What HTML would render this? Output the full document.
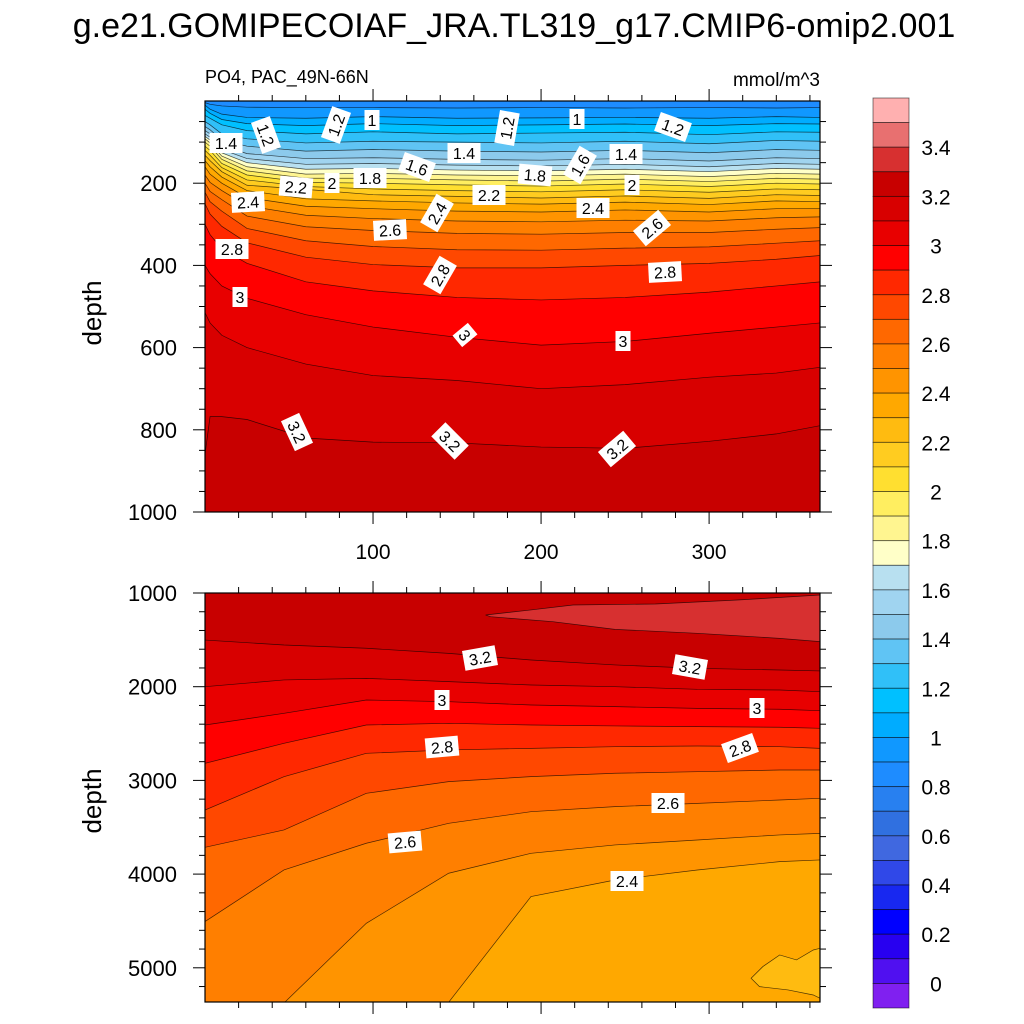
<!DOCTYPE html>
<html><head><meta charset="utf-8"><style>
html,body{margin:0;background:#fff;width:1024px;height:1024px;overflow:hidden;}
svg{display:block;font-family:"Liberation Sans",sans-serif;}
</style></head><body>
<svg id="c" width="1024" height="1024" viewBox="0 0 1024 1024">
<text x="514" y="37" font-size="34" text-anchor="middle">g.e21.GOMIPECOIAF_JRA.TL319_g17.CMIP6-omip2.001</text>
<text x="205" y="83" font-size="18">PO4, PAC_49N-66N</text>
<text x="820" y="86" font-size="19" text-anchor="end">mmol/m^3</text>
<text transform="translate(101,313) rotate(-90)" font-size="26" text-anchor="middle">depth</text>
<text transform="translate(101,801) rotate(-90)" font-size="26" text-anchor="middle">depth</text>
</svg>
<script>
// ---- data ----
const topDays = [0, 3, 10, 25, 60, 100, 150, 200, 250, 300, 340, 366];
const topLevels = [0.9,1.0,1.1,1.2,1.3,1.4,1.5,1.6,1.7,1.8,1.9,2.0,2.1,2.2,2.3,2.4,2.5,2.6,2.7,2.8,2.9,3.0,3.1,3.2];
const topDepths = [
 [4,8,12,15,16,16,17,16,17,16,17,16],
 [10,20,32,40,42,38,42,41,40,42,38,40],
 [20,30,45,55,60,55,60,58,56,60,55,56],
 [35,42,58,72,80,75,80,78,76,82,75,76],
 [50,58,80,92,102,98,100,102,98,104,96,98],
 [62,70,95,110,122,118,122,124,120,126,118,120],
 [72,80,108,128,140,138,142,144,140,146,138,140],
 [80,88,118,140,154,152,156,158,154,160,152,154],
 [86,95,126,150,166,164,168,170,166,172,164,166],
 [92,102,134,160,178,176,180,182,178,184,176,178],
 [100,110,142,170,188,188,192,195,190,196,188,190],
 [110,120,152,180,198,200,204,207,202,208,200,202],
 [120,132,162,192,208,214,218,221,216,222,214,216],
 [132,145,172,205,215,228,232,236,231,237,228,230],
 [145,160,185,218,238,243,248,251,246,252,243,245],
 [160,178,200,235,256,262,268,270,265,270,262,262],
 [180,198,218,255,278,286,292,294,290,292,284,282],
 [200,220,240,280,306,315,322,324,320,320,312,308],
 [222,245,268,310,340,354,362,363,358,355,346,340],
 [250,275,305,345,380,398,406,406,400,395,385,376],
 [300,325,360,395,440,462,478,484,478,465,450,440],
 [400,420,450,480,520,550,575,594,585,565,550,540],
 [515,540,570,600,640,668,680,700,690,672,662,648],
 [860,768,768,775,820,830,832,842,845,828,810,790]
];
const botDays = [0, 47, 96, 145, 194, 244, 293, 342, 366];
const botLevels = [3.2,3.1,3.0,2.9,2.8,2.7,2.6,2.5,2.4];
const botDepths = [
 [1502,1555,1590,1644,1715,1768,1804,1822,1832],
 [2000,1928,1911,1946,1982,2000,2028,2035,2053],
 [2409,2284,2142,2160,2195,2213,2231,2241,2256],
 [2818,2604,2409,2391,2409,2419,2426,2433,2444],
 [3316,2960,2711,2675,2658,2640,2633,2640,2658],
 [3714,3529,3138,3013,2960,2924,2907,2889,2889],
 [4507,3956,3671,3458,3334,3280,3245,3209,3191],
 [6659,5770,4525,3991,3778,3689,3636,3582,3565],
 [8794,7726,6481,5368,4240,4063,3956,3867,3849]
];
const highBlobDays = [167,194,219,268,317,366,366,342,293,244,207,170];
const highBlobDepths = [1235,1181,1128,1117,1075,1021,1519,1484,1430,1388,1306,1253];
const lowBlobDays = [366,362,352,342,332,325,330,347,362,366];
const lowBlobDepths = [4792,4810,4916,4863,4987,5112,5201,5236,5290,5325];
const cbLabels = ["0","0.2","0.4","0.6","0.8","1","1.2","1.4","1.6","1.8","2","2.2","2.4","2.6","2.8","3","3.2","3.4"];
const cbLabelVals = [0,0.2,0.4,0.6,0.8,1,1.2,1.4,1.6,1.8,2,2.2,2.4,2.6,2.8,3,3.2,3.4];
const topYTicks = [200,400,600,800,1000];
const botYTicks = [1000,2000,3000,4000,5000];
const xTicks = [100,200,300];
const bandColors = ["#5010f0","#2800f0","#0000ff","#1828f0","#3048e8","#4068e0","#3070e0","#2880f0","#1e8cff","#1098ff","#00acff","#00c0ff","#30c0f8","#60c4f4","#8ccaec","#a0d4f0","#b8e0f0","#ffffc8","#fff590","#ffee60","#ffdf30","#ffcc20","#ffbb10","#ffa800","#ff9400","#ff7f00","#ff6800","#ff4800","#ff2800","#ff0000","#e80000","#d80000","#c80000","#d73030","#e87070"];
const overColor = "#ffb0b0", underColor = "#8020f0";
const topLabels = [["1.4",226,143,0],["1.2",266,135,70],["1.2",336,125,-70],["1",372,120,0],["1.2",507,128,-80],["1",577,119,0],["1.2",673,127,20],["1.4",464,153,0],["1.6",417,167,20],["1.8",370,178,0],["2",332,183,0],["2.2",296,187,5],["1.8",535,175,5],["1.6",580,165,-60],["1.4",626,154,0],["2",632,185,0],["2.2",489,195,0],["2.4",248,202,-3],["2.4",437,213,-60],["2.4",593,208,0],["2.6",390,230,-3],["2.6",652,228,-40],["2.8",232,249,0],["2.8",440,275,-60],["2.8",665,272,-3],["3",240,297,0],["3",465,335,50],["3",623,341,0],["3.2",297,432,65],["3.2",450,441,45],["3.2",617,449,-40]];
const botLabels = [["3.2",480,658,-10],["3.2",690,667,10],["3",442,700,0],["3",757,708,0],["2.8",442,747,-5],["2.8",740,748,-20],["2.6",405,842,-5],["2.6",668,803,0],["2.4",627,881,0]];

// ---- geometry ----
const X0=205, X1=820, DMAX=366;
const T0=101, T1=512, B0=593, B1=1002;
const xs = d => X0 + d*(X1-X0)/DMAX;
const yTop = z => T0 + z*(T1-T0)/1000;
const yBot = z => Math.min(B1+1, B0 + (z-1000)*(B1-B0)/4365);
const NS="http://www.w3.org/2000/svg";
const svg=document.getElementById('c');
function mk(tag, attrs, parent){const e=document.createElementNS(NS,tag);for(const k in attrs)e.setAttribute(k,attrs[k]);(parent||svg).appendChild(e);return e;}
function band(v){const k=Math.round(v*10);return k<0?underColor:(k>34?overColor:bandColors[k]);}
const defs=mk('defs',{});
const cpT=mk('clipPath',{id:'cpT'},defs);mk('rect',{x:X0,y:T0,width:X1-X0,height:T1-T0},cpT);
const cpB=mk('clipPath',{id:'cpB'},defs);mk('rect',{x:X0,y:B0,width:X1-X0,height:B1-B0},cpB);

// ---- top panel ----
const gT=mk('g',{'clip-path':'url(#cpT)'});


const bgT=mk('rect',{x:X0,y:T0,width:X1-X0,height:T1-T0,fill:band(0.8)},gT);


topLevels.forEach((L,i)=>{
  const pts=topDays.map((d,j)=>xs(d)+','+yTop(topDepths[i][j]));
  const poly=mk('polygon',{points:pts.join(' ')+' '+(X1+2)+','+(T1+2)+' '+(X0-2)+','+(T1+2),fill:band(L)},gT);
  
  
});
topLevels.forEach((L,i)=>{
  const pts=topDays.map((d,j)=>xs(d)+','+yTop(topDepths[i][j]));
  const pl=mk('polyline',{points:pts.join(' '),fill:'none',stroke:'#000','stroke-width':0.7,'stroke-opacity':0.7},gT);
  
  
});

// ---- bottom panel ----
const gB=mk('g',{'clip-path':'url(#cpB)'});


const bgB=mk('rect',{x:X0,y:B0,width:X1-X0,height:B1-B0,fill:band(3.2)},gB);


botLevels.forEach((L,i)=>{
  const pts=botDays.map((d,j)=>xs(d)+','+yBot(botDepths[i][j]));
  const poly=mk('polygon',{points:pts.join(' ')+' '+(X1+2)+','+(B1+1)+' '+(X0-2)+','+(B1+1),fill:band(L-0.1)},gB);
  
  
});
const hb=mk('polygon',{points:highBlobDays.map((d,j)=>xs(d)+','+yBot(highBlobDepths[j])).join(' '),fill:band(3.3),stroke:'#000','stroke-width':0.7,'stroke-opacity':0.7},gB);


const lb=mk('polygon',{points:lowBlobDays.map((d,j)=>xs(d)+','+yBot(lowBlobDepths[j])).join(' '),fill:band(2.2),stroke:'#000','stroke-width':0.7,'stroke-opacity':0.7},gB);


botLevels.forEach((L,i)=>{
  const pts=botDays.map((d,j)=>xs(d)+','+yBot(botDepths[i][j]));
  const pl=mk('polyline',{points:pts.join(' '),fill:'none',stroke:'#000','stroke-width':0.7,'stroke-opacity':0.7},gB);
  
  
});

// ---- contour labels ----
function addLabels(arr){arr.forEach(a=>{
  const g=mk('g',{transform:`translate(${a[1]},${a[2]}) rotate(${a[3]})`});
  
  
  const w=a[0].length*9+6;
  mk('rect',{x:-w/2,y:-10,width:w,height:20,fill:'#fff'},g);
  const t=mk('text',{x:0,y:6,'font-size':16,'text-anchor':'middle'},g);t.textContent=a[0];
});}
addLabels(topLabels);addLabels(botLabels);

// ---- frames & ticks ----
function frame(y0,y1,name){
  const r=mk('rect',{x:X0,y:y0,width:X1-X0,height:y1-y0,fill:'none',stroke:'#000','stroke-width':1.2});
  
  
  for(let d=20;d<DMAX;d+=20){const big=d%100===0;const L=big?12:6;const x=xs(d);
    mk('line',{x1:x,y1:y0,x2:x,y2:y0-L,stroke:'#000','stroke-width':1});
    mk('line',{x1:x,y1:y1,x2:x,y2:Math.min(y1+L,1015),stroke:'#000','stroke-width':1});}
}
frame(T0,T1,'top-plot-frame');frame(B0,B1,'bottom-plot-frame');
for(let z=50;z<=1000;z+=50){const big=z%200===0;const L=big?12:6;const y=yTop(z);
  mk('line',{x1:X0,y1:y,x2:X0-L,y2:y,stroke:'#000'});mk('line',{x1:X1,y1:y,x2:X1+L,y2:y,stroke:'#000'});}
for(let z=1000;z<=5365;z+=200){const big=z%1000===0;const L=big?12:6;const y=yBot(z);
  mk('line',{x1:X0,y1:y,x2:X0-L,y2:y,stroke:'#000'});mk('line',{x1:X1,y1:y,x2:X1+L,y2:y,stroke:'#000'});}
topYTicks.forEach(v=>{const t=mk('text',{x:177,y:yTop(v)+8,'font-size':22,'text-anchor':'end'});t.textContent=v;
  
  });
botYTicks.forEach(v=>{const t=mk('text',{x:177,y:yBot(v)+8,'font-size':22,'text-anchor':'end'});t.textContent=v;
  
  });
xTicks.forEach(v=>{const t=mk('text',{x:xs(v),y:559,'font-size':21,'text-anchor':'middle'});t.textContent=v;
  
  });

// ---- colorbar ----
const CB0=98, CB1=1008, CBX=873, CBW=36, NB=37, bh=(CB1-CB0)/NB;
const cb=mk('g',{});


for(let i=0;i<NB;i++){
  const k=35-i;
  const col=k>34?overColor:(k<0?underColor:bandColors[k]);
  mk('rect',{x:CBX,y:CB0+i*bh,width:CBW,height:bh,fill:col,stroke:'#000','stroke-width':0.8,'stroke-opacity':0.6},cb);
}
const cbY = v => CB0 + (36 - v*10)*bh;
cbLabelVals.forEach((v,i)=>{const t=mk('text',{x:936,y:cbY(v)+8,'font-size':21,'text-anchor':'middle'},cb);t.textContent=cbLabels[i];
  
  });
</script>
</body></html>
